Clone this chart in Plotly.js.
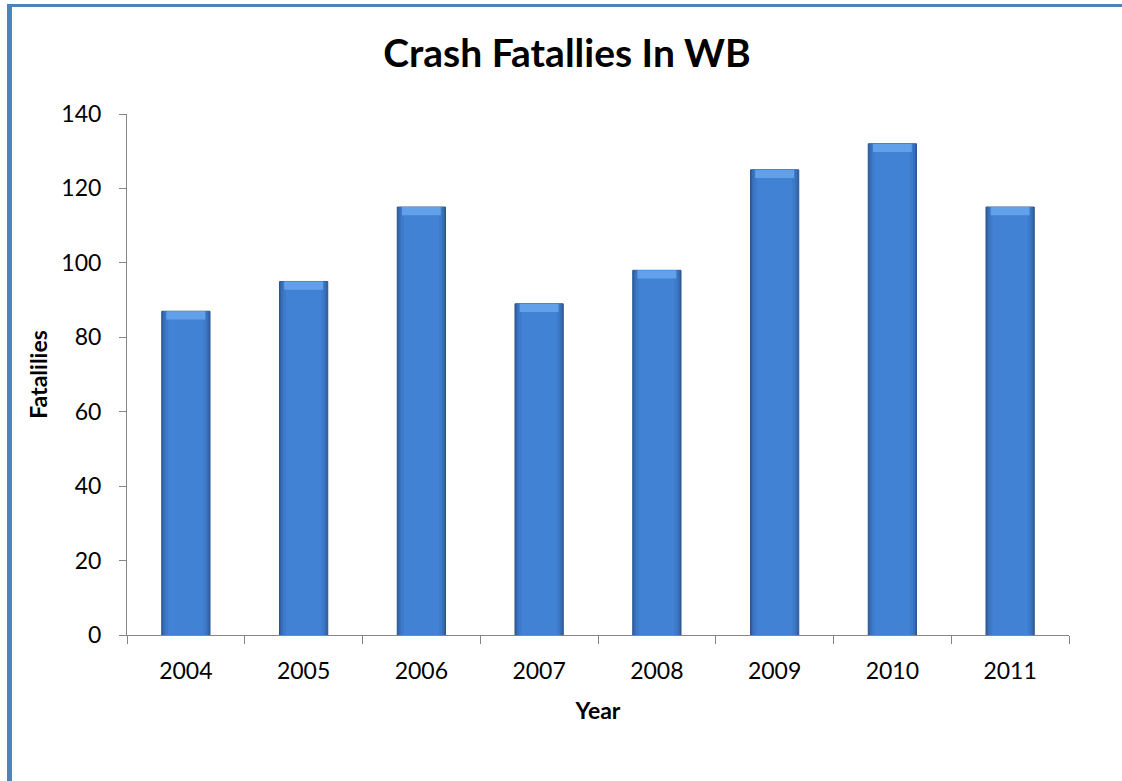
<!DOCTYPE html>
<html>
<head>
<meta charset="utf-8">
<script src="https://cdn.plot.ly/plotly-3.0.1.min.js"></script>
<style>
  html, body { margin: 0; padding: 0; background: #fff; overflow: hidden; }
  #chart { position: absolute; left: 0; top: 0; width: 1122px; height: 781px; }
  #frame { position: absolute; left: 7px; top: 4px; width: 1110px; height: 777px;
           border-left: 5px solid #4f81bd; border-top: 3px solid #4f81bd; pointer-events: none; }
</style>
</head>
<body>
<div id="chart"></div>
<div id="frame"></div>
<script>
const years = ['2004', '2005', '2006', '2007', '2008', '2009', '2010', '2011'];
const fatalities = [87, 95, 115, 89, 98, 125, 132, 115];
const titleText = 'Crash Fatallies In WB';
const xTitle = 'Year';
const yTitle = 'Fatalilies';
const yTicks = [0, 20, 40, 60, 80, 100, 120, 140];

const FONT = 'Lato, Calibri, Carlito, sans-serif';

function layer(width, color, lineColor) {
  return {
    type: 'bar', x: years, y: fatalities, width: width,
    marker: { color: color, line: { color: lineColor, width: lineColor ? 1 : 0 } },
    hoverinfo: 'skip', showlegend: false
  };
}
const capH = 2.2;
const cap = {
  type: 'bar', x: years, y: fatalities.map(() => capH), base: fatalities.map(v => v - capH),
  width: 0.33, marker: { color: '#62a0ea', line: { width: 0 } }, hoverinfo: 'skip', showlegend: false
};

const data = [
  layer(0.41, '#30609f', '#2b5690'),
  layer(0.385, '#386fb8', null),
  layer(0.35, '#3d7aca', null),
  layer(0.30, '#4182d4', null),
  cap
];

const layout = {
  width: 1122, height: 781,
  margin: { l: 127, r: 53, t: 114, b: 146 },
  paper_bgcolor: '#ffffff', plot_bgcolor: '#ffffff',
  barmode: 'overlay',
  font: { family: FONT, color: '#000000', size: 23 },
  title: { text: '<b>' + titleText + '</b>', font: { family: FONT, size: 39, color: '#000' },
           x: 567 / 1122, xanchor: 'center', xref: 'container', y: 1 - 53 / 781, yanchor: 'middle', yref: 'container' },
  xaxis: {
    type: 'category', tickson: 'boundaries', ticks: 'outside', ticklen: 8, tickcolor: '#868686',
    showline: true, linecolor: '#868686', linewidth: 1, showgrid: false, zeroline: false,
    tickfont: { family: FONT, size: 23, color: '#000' }, ticklabelstandoff: 15,
    title: { text: '<b>' + xTitle + '</b>', font: { family: FONT, size: 23, color: '#000' }, standoff: 20 },
    fixedrange: true
  },
  yaxis: {
    range: [0, 140], tickvals: yTicks, ticks: 'outside', ticklen: 7, tickcolor: '#868686',
    showline: true, linecolor: '#868686', linewidth: 1, showgrid: false, zeroline: false,
    tickfont: { family: FONT, size: 23, color: '#000' }, ticklabelstandoff: 13,
    title: { text: '<b>' + yTitle + '</b>', font: { family: FONT, size: 23, color: '#000' }, standoff: 7 },
    fixedrange: true
  }
};

Plotly.newPlot('chart', data, layout, { displayModeBar: false, staticPlot: true });
</script>
</body>
</html>
